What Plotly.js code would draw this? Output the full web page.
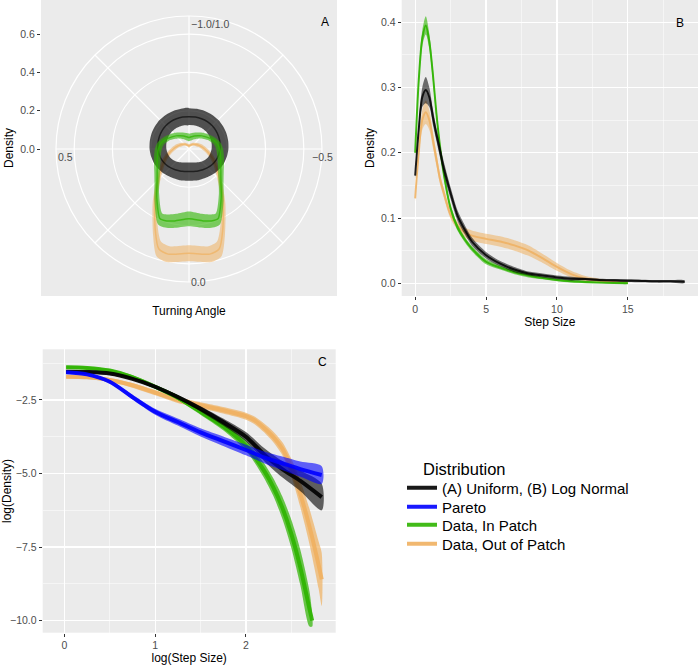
<!DOCTYPE html>
<html><head><meta charset="utf-8">
<script src="https://cdn.plot.ly/plotly-3.0.1.min.js"></script>
<style>html,body{margin:0;padding:0;background:#fff}</style>
</head><body><div id="chart" style="width:700px;height:666px"></div>
<script>
// ---------- Panel A : turning angle (polar) ----------
const turnAngle = [-1,-0.9375,-0.875,-0.8125,-0.75,-0.6875,-0.625,-0.5625,-0.5,-0.4375,-0.375,-0.3125,-0.25,-0.1875,-0.125,-0.09375,-0.0625,0,
                   0.0625,0.09375,0.125,0.1875,0.25,0.3125,0.375,0.4375,0.5,0.5625,0.625,0.6875,0.75,0.8125,0.875,0.9375,1];
const densA_uniform = [0.169,0.17,0.171,0.172,0.172,0.17,0.168,0.165,0.162,0.158,0.153,0.146,0.138,0.13,0.124,0.122,0.12,0.118,
                       0.12,0.122,0.124,0.13,0.138,0.146,0.153,0.158,0.162,0.165,0.168,0.17,0.172,0.172,0.171,0.17,0.169];
const spreadA_uniform = [0.044,0.044,0.044,0.044,0.044,0.044,0.044,0.044,0.044,0.044,0.044,0.044,0.045,0.046,0.047,0.048,0.048,0.048,
                         0.048,0.048,0.047,0.046,0.045,0.044,0.044,0.044,0.044,0.044,0.044,0.044,0.044,0.044,0.044,0.044,0.044];
const densA_inPatch = [0.06,0.065,0.073,0.083,0.097,0.112,0.132,0.15,0.16,0.168,0.18,0.2,0.236,0.303,0.395,0.393,0.383,0.365,
                       0.383,0.393,0.395,0.303,0.236,0.2,0.18,0.168,0.16,0.15,0.132,0.112,0.097,0.083,0.073,0.065,0.06];
const spreadA_inPatch = [0.02,0.02,0.02,0.02,0.02,0.019,0.018,0.018,0.018,0.018,0.018,0.018,0.019,0.022,0.03,0.036,0.038,0.039,
                         0.038,0.036,0.03,0.022,0.019,0.018,0.018,0.018,0.018,0.018,0.018,0.019,0.02,0.02,0.02,0.02,0.02];
const densA_outPatch = [0.016,0.018,0.022,0.028,0.035,0.043,0.053,0.066,0.082,0.105,0.135,0.172,0.225,0.32,0.46,0.545,0.56,0.545,
                        0.56,0.545,0.46,0.32,0.225,0.172,0.135,0.105,0.082,0.066,0.053,0.043,0.035,0.028,0.022,0.018,0.016];
const spreadA_outPatch = [0.01,0.01,0.01,0.011,0.012,0.013,0.014,0.015,0.016,0.017,0.018,0.018,0.019,0.022,0.03,0.04,0.042,0.042,
                          0.042,0.04,0.03,0.022,0.019,0.018,0.018,0.017,0.016,0.015,0.014,0.013,0.012,0.011,0.01,0.01,0.01];

// ---------- Panel B : step size density ----------
const stepB_lognormal = [0,0.25,0.5,0.75,1,1.25,1.5,1.75,2,2.5,3,3.5,4,5,6,7,8,9,10,11,12,13,14,15,16,17,18,19];
const densB_lognormal = [0.165,0.235,0.285,0.296,0.285,0.255,0.228,0.203,0.178,0.138,0.103,0.082,0.064,0.043,0.03,0.021,0.015,0.012,0.009,0.007,0.0065,0.005,0.0045,0.004,0.0035,0.003,0.003,0.0025];
const spreadB_lognormal = [0.005,0.01,0.015,0.02,0.015,0.012,0.01,0.01,0.01,0.009,0.008,0.007,0.006,0.005,0.004,0.004,0.003,0.003,0.003,0.003,0.002,0.002,0.002,0.002,0.002,0.002,0.002,0.002];
const stepB_data = [0,0.25,0.5,0.75,1,1.25,1.5,1.75,2,2.5,3,3.5,4,5,6,7,8,9,10,11,12,13,14,15];
const densB_inPatch = [0.2,0.31,0.375,0.395,0.37,0.32,0.26,0.21,0.17,0.115,0.085,0.067,0.053,0.033,0.024,0.017,0.012,0.008,0.005,0.003,0.002,0.001,0.0005,0.0002];
const spreadB_inPatch = [0.005,0.01,0.012,0.014,0.012,0.01,0.008,0.007,0.006,0.005,0.005,0.004,0.004,0.004,0.003,0.003,0.003,0.002,0.002,0.002,0.002,0.001,0.001,0.001];
const densB_outPatch = [0.13,0.2,0.25,0.262,0.25,0.22,0.19,0.16,0.14,0.105,0.088,0.078,0.073,0.068,0.064,0.058,0.05,0.038,0.025,0.014,0.007,0.004,0.002,0.001];
const spreadB_outPatch = [0.005,0.01,0.015,0.018,0.015,0.012,0.01,0.008,0.007,0.006,0.006,0.007,0.008,0.008,0.008,0.008,0.008,0.007,0.006,0.005,0.004,0.003,0.002,0.001];

// ---------- Panel C : log-log ----------
const logStepC_model = [0.02,0.25,0.5,0.75,1.0,1.25,1.5,1.75,2.0,2.2,2.4,2.6,2.835];
const logDensC_lognormal = [-1.54,-1.55,-1.6,-1.78,-2.05,-2.4,-2.8,-3.25,-3.75,-4.35,-4.85,-5.25,-5.8];
const spreadC_lognormal = [0.05,0.05,0.05,0.05,0.06,0.07,0.09,0.12,0.16,0.22,0.28,0.35,0.45];
const logDensC_pareto = [-1.56,-1.63,-1.88,-2.4,-2.9,-3.25,-3.6,-3.9,-4.2,-4.45,-4.65,-4.85,-5.05];
const spreadC_pareto = [0.05,0.05,0.06,0.08,0.1,0.12,0.14,0.16,0.18,0.2,0.23,0.26,0.3];
const logStepC_inPatch = [0.02,0.25,0.5,0.75,1.0,1.25,1.5,1.75,2.0,2.1,2.2,2.3,2.4,2.5,2.6,2.7,2.73];
const logDensC_inPatch = [-1.39,-1.41,-1.5,-1.72,-2.05,-2.42,-2.9,-3.4,-4.05,-4.45,-4.9,-5.45,-6.15,-7.05,-8.2,-9.6,-10.0];
const spreadC_inPatch = [0.05,0.05,0.05,0.06,0.07,0.08,0.1,0.13,0.17,0.2,0.25,0.3,0.38,0.48,0.6,0.6,0.2];
const logStepC_outPatch = [0.02,0.25,0.5,0.75,1.0,1.25,1.5,1.75,2.0,2.1,2.2,2.3,2.4,2.5,2.6,2.7,2.8,2.835];
const logDensC_outPatch = [-1.71,-1.73,-1.82,-2.0,-2.25,-2.5,-2.68,-2.85,-3.05,-3.2,-3.45,-3.75,-4.15,-4.8,-5.7,-6.8,-8.1,-8.6];
const spreadC_outPatch = [0.06,0.06,0.07,0.08,0.09,0.1,0.1,0.11,0.12,0.13,0.15,0.18,0.22,0.3,0.45,0.6,0.8,0.9];

const seriesNames = ['(A) Uniform, (B) Log Normal','Pareto','Data, In Patch','Data, Out of Patch'];
const seriesColors = ['#000000','#0000FF','#2DB400','#EFB060'];
const legendIds = ['legend','legend2','legend3','legend4'];

function rgba(hex,a){const n=parseInt(hex.slice(1),16);return `rgba(${n>>16&255},${n>>8&255},${n&255},${a})`;}

const traces = [];
// empty trace so that the panel-A background subplot (radial scale) exists
traces.push({type:'scatter', x:[], y:[], xaxis:'x4', yaxis:'y4', showlegend:false, hoverinfo:'skip'});

function band(x, y, s, ci, xa, ya, opts){
  const upper = y.map((v,i)=>v+s[i]);
  const lower = y.map((v,i)=>v-s[i]);
  traces.push({type:'scatter', x: x.concat(x.slice().reverse()), y: upper.concat(lower.slice().reverse()),
    xaxis:xa, yaxis:ya, mode:'lines', fill:'toself', fillcolor: rgba(seriesColors[ci], opts.fa),
    line:{width:0, shape:'spline', smoothing:0.8}, hoverinfo:'skip', showlegend:false});
  traces.push({type:'scatter', x:x, y:y, xaxis:xa, yaxis:ya, mode:'lines',
    line:{color: rgba(seriesColors[ci], opts.la), width: opts.lw, shape:'spline', smoothing:0.8},
    name: seriesNames[ci], legend: legendIds[ci], showlegend: !!opts.legend});
}
function polarBand(th, r, s, ci, opts){
  const deg = th.map(t=>t*180);
  const upper = r.map((v,i)=>v+s[i]);
  const lower = r.map((v,i)=>Math.max(0,v-s[i]));
  traces.push({type:'scatterpolar', subplot:'polar', theta: deg.concat(deg.slice().reverse()), r: upper.concat(lower.slice().reverse()),
    mode:'lines', fill:'toself', fillcolor: rgba(seriesColors[ci], opts.fa), line:{width:0, shape:'spline', smoothing:0.7},
    hoverinfo:'skip', showlegend:false});
  traces.push({type:'scatterpolar', subplot:'polar', theta: deg, r: r, mode:'lines',
    line:{color: rgba(seriesColors[ci], opts.la), width: opts.lw, shape:'spline', smoothing:0.7}, showlegend:false, hoverinfo:'skip'});
}

// Panel A
polarBand(turnAngle, densA_outPatch, spreadA_outPatch, 3, {fa:0.55, la:0.7, lw:1.5});
polarBand(turnAngle, densA_uniform, spreadA_uniform, 0, {fa:0.66, la:0.6, lw:1.5});
polarBand(turnAngle, densA_inPatch, spreadA_inPatch, 2, {fa:0.6, la:0.75, lw:1.5});
// Panel B
band(stepB_data, densB_outPatch, spreadB_outPatch, 3, 'x2','y2', {fa:0.55, la:0.85, lw:2});
band(stepB_data, densB_inPatch, spreadB_inPatch, 2, 'x2','y2', {fa:0.6, la:0.9, lw:2});
band(stepB_lognormal, densB_lognormal, spreadB_lognormal, 0, 'x2','y2', {fa:0.55, la:0.85, lw:2});
// Panel C
band(logStepC_outPatch, logDensC_outPatch, spreadC_outPatch, 3, 'x3','y3', {fa:0.7, la:0.9, lw:4, legend:true});
band(logStepC_inPatch, logDensC_inPatch, spreadC_inPatch, 2, 'x3','y3', {fa:0.7, la:0.9, lw:4, legend:true});
band(logStepC_model, logDensC_lognormal, spreadC_lognormal, 0, 'x3','y3', {fa:0.6, la:0.9, lw:4, legend:true});
band(logStepC_model, logDensC_pareto, spreadC_pareto, 1, 'x3','y3', {fa:0.6, la:0.9, lw:4, legend:true});

const FONT = 'Liberation Sans, Arial, sans-serif';
const tickFont = {family:FONT, size:10.5, color:'#4D4D4D'};
const titleFont = {family:FONT, size:12, color:'#000'};
const common = {showline:false, zeroline:false, ticks:'outside', ticklen:3, tickcolor:'#333', tickwidth:1,
  gridcolor:'#FFFFFF', gridwidth:1.2, tickfont:tickFont, automargin:false};

const W=700,H=666;
const legFont = {family:FONT, size:15, color:'#000'};
const legBase = {x:402/W, xanchor:'left', yanchor:'middle', bgcolor:'rgba(0,0,0,0)', font:legFont, itemwidth:30};
const layout = {
  width:W, height:H, margin:{l:0,r:0,t:0,b:0}, paper_bgcolor:'#fff', plot_bgcolor:'#EBEBEB',
  font:{family:FONT},
  // Panel A background + radial scale
  xaxis4: Object.assign({}, common, {domain:[41/W,337/W], anchor:'y4', range:[-1,1], showgrid:false, showticklabels:false, ticks:'',
    title:{text:'Turning Angle', font:titleFont, standoff:10}}),
  yaxis4: Object.assign({}, common, {domain:[1-296/H,1], anchor:'x4', range:[-147/191.4, 149/191.4], showgrid:false,
    tickvals:[0,0.2,0.4,0.6], tickformat:'.1f', title:{text:'Density', font:titleFont, standoff:4}}),
  polar: {domain:{x:[56/W,322/W], y:[1-282/H,1-16/H]}, bgcolor:'#EBEBEB',
    radialaxis:{range:[0,0.695], tickvals:[0.2,0.4,0.6], showticklabels:false, ticks:'', showline:false, gridcolor:'#fff', gridwidth:1.2},
    angularaxis:{rotation:270, direction:'clockwise', tickvals:[0,45,90,135,180,225,270,315], showticklabels:false, ticks:'',
      showline:true, linecolor:'#fff', linewidth:1.2, gridcolor:'#fff', gridwidth:1.2}},
  // Panel B
  xaxis2: Object.assign({}, common, {domain:[401.7/W,698/W], anchor:'y2', range:[-0.95,19.95], tickvals:[0,5,10,15],
    minor:{dtick:2.5, tick0:0, showgrid:true, gridcolor:'#fff', gridwidth:0.5},
    title:{text:'Step Size', font:titleFont, standoff:3}}),
  yaxis2: Object.assign({}, common, {domain:[1-296/H,1], anchor:'x2', range:[-0.0195,0.434], tickvals:[0,0.1,0.2,0.3,0.4], tickformat:'.1f',
    minor:{dtick:0.05, tick0:0, showgrid:true, gridcolor:'#fff', gridwidth:0.5},
    title:{text:'Density', font:titleFont, standoff:3}}),
  // Panel C
  xaxis3: Object.assign({}, common, {domain:[42.7/W,335.7/W], anchor:'y3', range:[-0.238,2.989], tickvals:[0,1,2],
    minor:{dtick:0.5, tick0:0, showgrid:true, gridcolor:'#fff', gridwidth:0.5},
    title:{text:'log(Step Size)', font:titleFont, standoff:3}}),
  yaxis3: Object.assign({}, common, {domain:[1-632.7/H,1-349.3/H], anchor:'x3', range:[-10.41,-0.777], tickvals:[-2.5,-5,-7.5,-10], tickformat:'.1f',
    minor:{dtick:1.25, tick0:0, showgrid:true, gridcolor:'#fff', gridwidth:0.5},
    title:{text:'log(Density)', font:titleFont, standoff:6}}),
  legend: Object.assign({}, legBase, {y:1-488/H}),
  legend2: Object.assign({}, legBase, {y:1-507/H}),
  legend3: Object.assign({}, legBase, {y:1-525/H}),
  legend4: Object.assign({}, legBase, {y:1-544/H}),
  annotations:[
    {text:'Distribution', x:421/W, y:1-469/H, xref:'paper', yref:'paper', xanchor:'left', yanchor:'middle', showarrow:false,
      font:{family:FONT, size:16.5, color:'#000'}},
    {text:'A', x:325/W, y:1-13/H, xref:'paper', yref:'paper', showarrow:false, font:{family:FONT,size:12,color:'#000'}},
    {text:'B', x:686/W, y:1-14/H, xref:'paper', yref:'paper', showarrow:false, font:{family:FONT,size:12,color:'#000'}},
    {text:'C', x:322/W, y:1-362/H, xref:'paper', yref:'paper', showarrow:false, font:{family:FONT,size:12,color:'#000'}},
    {text:'\u22121.0/1.0', x:189/W, y:1-16/H, xref:'paper', yref:'paper', showarrow:false, font:tickFont},
    {text:'0.5', x:56/W, y:1-149/H, xref:'paper', yref:'paper', showarrow:false, font:tickFont},
    {text:'\u22120.5', x:322/W, y:1-149/H, xref:'paper', yref:'paper', showarrow:false, font:tickFont},
    {text:'0.0', x:189/W, y:1-282/H, xref:'paper', yref:'paper', showarrow:false, font:tickFont}
  ]
};
Plotly.newPlot('chart', traces, layout, {displayModeBar:false, staticPlot:true});
</script></body></html>
